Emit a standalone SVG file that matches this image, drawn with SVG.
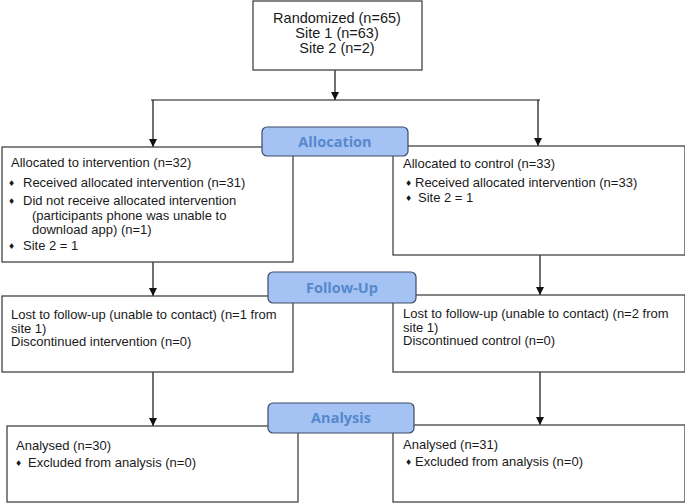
<svg xmlns="http://www.w3.org/2000/svg" width="685" height="503" viewBox="0 0 685 503">
<defs>
<marker id="ah" viewBox="0 0 10 10" refX="10" refY="5" markerWidth="8" markerHeight="8" markerUnits="userSpaceOnUse" orient="auto">
<path d="M0,0 L10,5 L0,10 z" fill="#111"/>
</marker>
<style>
.box{fill:#fff;stroke:#444;stroke-width:1.3}
.lab{fill:#a4c2f4;stroke:#3d4a66;stroke-width:1.2}
.labt{font-family:"Open Sans","DejaVu Sans",sans-serif;font-weight:bold;font-size:14.5px;fill:#5689cc;text-anchor:middle}
.t{font-family:"Liberation Sans",Arial,sans-serif;font-size:13px;fill:#1a1a1a}
.tt{font-family:"Liberation Sans",Arial,sans-serif;font-size:14.5px;fill:#1a1a1a;text-anchor:middle}
.b{font-family:"DejaVu Sans",sans-serif;font-size:8px;fill:#1a1a1a}
.c{fill:none;stroke:#111;stroke-width:1.2}
</style>
</defs>
<rect width="685" height="503" fill="#fff"/>
<g id="connectors">
<line class="c" x1="335" y1="70" x2="335" y2="100" marker-end="url(#ah)"/>
<line class="c" x1="151" y1="100" x2="540" y2="100"/>
<line class="c" x1="153" y1="100" x2="153" y2="147" marker-end="url(#ah)"/>
<line class="c" x1="538" y1="100" x2="538" y2="146" marker-end="url(#ah)"/>
<line class="c" x1="153" y1="262" x2="153" y2="296" marker-end="url(#ah)"/>
<line class="c" x1="540" y1="255" x2="540" y2="295" marker-end="url(#ah)"/>
<line class="c" x1="153" y1="372" x2="153" y2="426" marker-end="url(#ah)"/>
<line class="c" x1="540" y1="372" x2="540" y2="425" marker-end="url(#ah)"/>
</g>
<g id="randomized">
<rect class="box" x="253" y="1" width="169" height="69"/>
<text class="tt"><tspan x="337" y="23">Randomized (n=65)</tspan><tspan x="337" y="38">Site 1 (n=63)</tspan><tspan x="337" y="53">Site 2 (n=2)</tspan></text>
</g>
<g id="alloc-intervention">
<rect class="box" x="2" y="147" width="291" height="115"/>
<text class="t" x="11" y="167">Allocated to intervention (n=32)</text>
<text class="b" x="8" y="186">♦</text><text class="t" x="23" y="187">Received allocated intervention (n=31)</text>
<text class="b" x="8" y="204">♦</text><text class="t" x="23" y="205">Did not receive allocated intervention</text>
<text class="t" x="32" y="220">(participants phone was unable to</text>
<text class="t" x="32" y="234">download app) (n=1)</text>
<text class="b" x="8" y="249">♦</text><text class="t" x="23" y="250">Site 2 = 1</text>
</g>
<g id="alloc-control">
<rect class="box" x="393" y="146" width="292" height="109"/>
<text class="t" x="403" y="168">Allocated to control (n=33)</text>
<text class="b" x="405" y="186">♦</text><text class="t" x="415" y="187">Received allocated intervention (n=33)</text>
<text class="b" x="405" y="201">♦</text><text class="t" x="418" y="202">Site 2 = 1</text>
</g>
<g id="label-allocation">
<rect class="lab" x="262" y="127" width="146" height="29" rx="5"/>
<text class="labt" x="335" y="147">Allocation</text>
</g>
<g id="followup-intervention">
<rect class="box" x="2" y="296" width="291" height="76"/>
<text class="t"><tspan x="11" y="319">Lost to follow-up (unable to contact) (n=1 from</tspan><tspan x="11" y="332.5">site 1)</tspan><tspan x="11" y="346">Discontinued intervention (n=0)</tspan></text>
</g>
<g id="followup-control">
<rect class="box" x="393" y="295" width="292" height="77"/>
<text class="t"><tspan x="403" y="318">Lost to follow-up (unable to contact) (n=2 from</tspan><tspan x="403" y="331.5">site 1)</tspan><tspan x="403" y="345">Discontinued control (n=0)</tspan></text>
</g>
<g id="label-followup">
<rect class="lab" x="268" y="272" width="148" height="31" rx="5"/>
<text class="labt" x="342" y="293">Follow-Up</text>
</g>
<g id="analysis-intervention">
<rect class="box" x="7" y="426" width="291" height="76"/>
<text class="t" x="16" y="450">Analysed (n=30)</text>
<text class="b" x="15" y="466">♦</text><text class="t" x="28" y="467">Excluded from analysis (n=0)</text>
</g>
<g id="analysis-control">
<rect class="box" x="393" y="425" width="292" height="77"/>
<text class="t" x="403" y="449">Analysed (n=31)</text>
<text class="b" x="405" y="465">♦</text><text class="t" x="415" y="466">Excluded from analysis (n=0)</text>
</g>
<g id="label-analysis">
<rect class="lab" x="268" y="403" width="146" height="30" rx="5"/>
<text class="labt" x="341" y="423">Analysis</text>
</g>
</svg>
